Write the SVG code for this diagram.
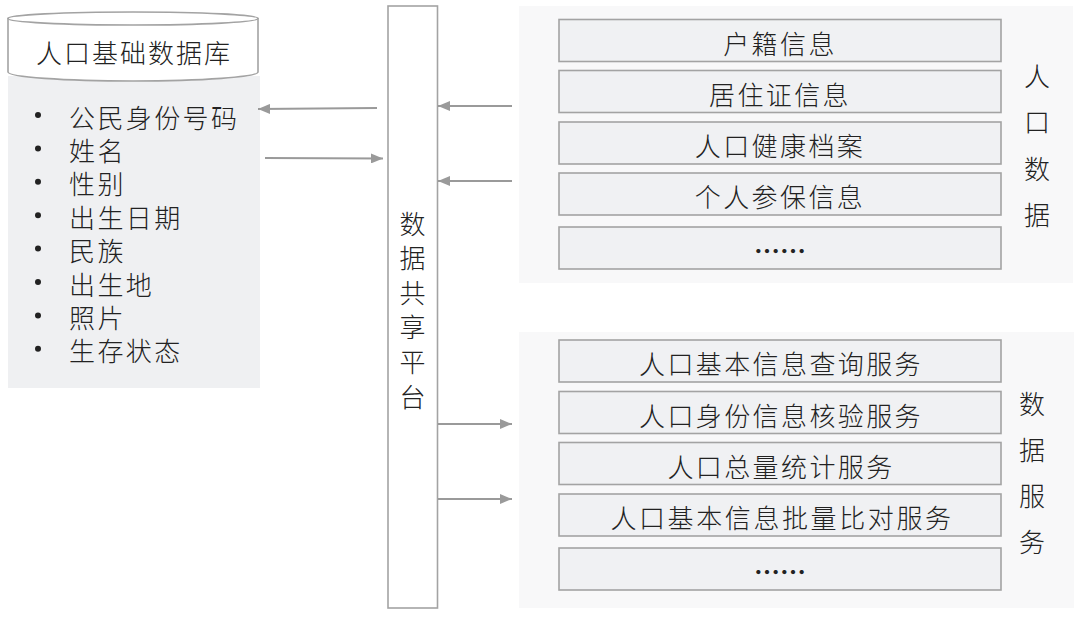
<svg xmlns="http://www.w3.org/2000/svg" width="1080" height="617" viewBox="0 0 1080 617">
<defs>
<style>
.t{font-family:"Noto Sans CJK SC","Noto Sans",sans-serif;font-size:26px;fill:#222;font-weight:300}
.c{text-anchor:middle;dominant-baseline:central}
.l{dominant-baseline:central;letter-spacing:2.4px}
.row{fill:#f0f1f3;stroke:#a3a3a3;stroke-width:1.6}
.panel{fill:#f8f8f9}
.ln{stroke:#9a9a9a;stroke-width:2;fill:none}
.box{fill:#fff;stroke:#a3a3a3;stroke-width:1.6}
</style>
<marker id="ah" viewBox="0 0 12 10" refX="12" refY="5" markerWidth="12" markerHeight="10" markerUnits="userSpaceOnUse" orient="auto">
<path d="M0,0 L12,5 L0,10 Z" fill="#9a9a9a"/>
</marker>
</defs>
<rect width="1080" height="617" fill="#fff"/>

<g id="db">
<rect x="8" y="76" width="252" height="312" fill="#eff0f2"/>
<path d="M8,18.5 L8,72 A125,9 0 0 0 258,72 L258,18.5 Z" fill="#fff" stroke="#a3a3a3" stroke-width="1.6"/>
<ellipse cx="133" cy="18.5" rx="125" ry="6.5" fill="#fff" stroke="#a3a3a3" stroke-width="1.6"/>
<text class="t c" x="134" y="51" style="letter-spacing:2px">人口基础数据库</text>
<g>
<circle cx="38" cy="115" r="3" fill="#222"/><text class="t l" x="69" y="116">公民身份号码</text>
<circle cx="38" cy="148.4" r="3" fill="#222"/><text class="t l" x="69" y="149.4">姓名</text>
<circle cx="38" cy="181.8" r="3" fill="#222"/><text class="t l" x="69" y="182.8">性别</text>
<circle cx="38" cy="215.2" r="3" fill="#222"/><text class="t l" x="69" y="216.2">出生日期</text>
<circle cx="38" cy="248.6" r="3" fill="#222"/><text class="t l" x="69" y="249.6">民族</text>
<circle cx="38" cy="282" r="3" fill="#222"/><text class="t l" x="69" y="283">出生地</text>
<circle cx="38" cy="315.4" r="3" fill="#222"/><text class="t l" x="69" y="316.4">照片</text>
<circle cx="38" cy="348.8" r="3" fill="#222"/><text class="t l" x="69" y="349.8">生存状态</text>
</g>
</g>

<g id="platform">
<rect class="box" x="388" y="6" width="49.5" height="602"/>
<text class="t c" x="412.5" y="222">数</text>
<text class="t c" x="412.5" y="256.6">据</text>
<text class="t c" x="412.5" y="291.2">共</text>
<text class="t c" x="412.5" y="325.8">享</text>
<text class="t c" x="412.5" y="360.4">平</text>
<text class="t c" x="412.5" y="395">台</text>
</g>

<g id="population-data">
<rect class="panel" x="519" y="6" width="554" height="277"/>
<rect class="row" x="559" y="19.5" width="442" height="42"/>
<text class="t c" x="780" y="42" style="letter-spacing:2.4px">户籍信息</text>
<rect class="row" x="559" y="70.5" width="442" height="42"/>
<text class="t c" x="780" y="93" style="letter-spacing:2.4px">居住证信息</text>
<rect class="row" x="559" y="122" width="442" height="42"/>
<text class="t c" x="780" y="144.5" style="letter-spacing:2.4px">人口健康档案</text>
<rect class="row" x="559" y="173" width="442" height="42"/>
<text class="t c" x="780" y="195.5" style="letter-spacing:2.4px">个人参保信息</text>
<rect class="row" x="559" y="227" width="442" height="42"/>
<text class="t c" x="780" y="249" style="font-weight:700">……</text>
<text class="t c" x="1037" y="74">人</text>
<text class="t c" x="1037" y="120.5">口</text>
<text class="t c" x="1037" y="167">数</text>
<text class="t c" x="1037" y="213.5">据</text>
</g>

<g id="data-services">
<rect class="panel" x="519" y="332" width="555" height="276"/>
<rect class="row" x="559" y="340" width="442" height="42"/>
<text class="t c" x="781" y="362.5" style="letter-spacing:2.4px">人口基本信息查询服务</text>
<rect class="row" x="559" y="391.5" width="442" height="42"/>
<text class="t c" x="781" y="414" style="letter-spacing:2.4px">人口身份信息核验服务</text>
<rect class="row" x="559" y="442.5" width="442" height="42"/>
<text class="t c" x="781" y="465" style="letter-spacing:2.4px">人口总量统计服务</text>
<rect class="row" x="559" y="494" width="442" height="42"/>
<text class="t c" x="782" y="516.5" style="letter-spacing:2.6px">人口基本信息批量比对服务</text>
<rect class="row" x="559" y="548" width="442" height="42"/>
<text class="t c" x="780" y="570" style="font-weight:700">……</text>
<text class="t c" x="1032" y="402">数</text>
<text class="t c" x="1032" y="448">据</text>
<text class="t c" x="1032" y="494">服</text>
<text class="t c" x="1032" y="540">务</text>
</g>

<g id="connectors">
<line class="ln" x1="377" y1="108" x2="258" y2="109" marker-end="url(#ah)"/>
<line class="ln" x1="265" y1="158" x2="383" y2="158.5" marker-end="url(#ah)"/>
<line class="ln" x1="512" y1="106" x2="438" y2="106" marker-end="url(#ah)"/>
<line class="ln" x1="512" y1="181" x2="438" y2="181" marker-end="url(#ah)"/>
<line class="ln" x1="438" y1="424" x2="512" y2="424" marker-end="url(#ah)"/>
<line class="ln" x1="438" y1="499" x2="512" y2="499" marker-end="url(#ah)"/>
</g>
</svg>
